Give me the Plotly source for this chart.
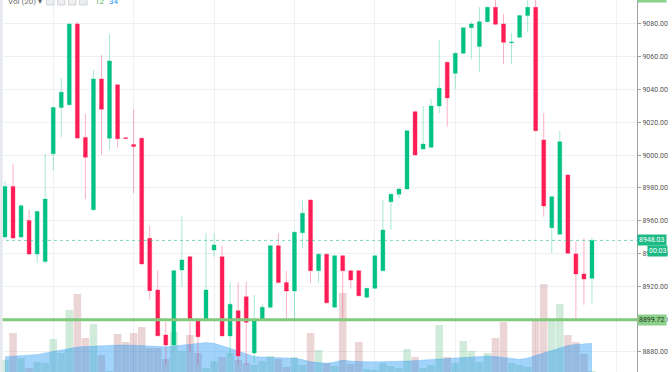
import plotly.graph_objects as go

# ---- data (candle index 0..73) ----
opens = [8950.1, 8980.9, 8950.1, 8960.2, 8939.7, 8935.1, 9000.8, 9029.0, 9030.7, 9080.0,
         9010.8, 8966.7, 9046.5, 9010.3, 9042.9, 9010.6, 9006.5, 9010.3, 8949.3, 8917.8,
         8890.4, 8884.3, 8930.0, 8938.1, 8899.5, 8899.3, 8942.2, 8938.1, 8889.8, 8905.2,
         8913.7, 8879.4, 8899.5, 8907.3, 8944.8, 8922.3, 8917.2, 8952.7, 8972.7, 8929.6,
         8939.6, 8907.3, 8938.7, 8929.6, 8929.6, 8913.4, 8918.8, 8929.6, 8971.6, 8976.2,
         8979.4, 9026.5, 9003.8, 9004.8, 9030.0, 9056.6, 9049.9, 9062.1, 9077.7, 9066.2,
         9081.4, 9090.2, 9080.0, 9068.6, 9071.9, 9085.1, 9090.2, 9009.3, 8955.8, 8951.8,
         8987.9, 8939.8, 8927.6, 8924.9]
highs = [8984.0, 8994.7, 8970.0, 8966.7, 8966.0, 9000.8, 9029.5, 9046.9, 9080.3, 9081.2,
         9025.2, 9052.0, 9061.1, 9073.7, 9043.2, 9010.8, 9028.0, 9010.6, 8957.0, 8929.8,
         8898.5, 8930.0, 8963.1, 8938.5, 8900.0, 8952.4, 8952.4, 8944.8, 8922.3, 8922.3,
         8922.9, 8914.8, 8909.5, 8945.5, 8952.4, 8929.6, 8953.5, 8972.7, 8973.0, 8940.0,
         8940.0, 8939.0, 8939.0, 8930.0, 8930.0, 8919.0, 8939.0, 8972.7, 8976.5, 8979.8,
         9015.2, 9027.0, 9030.0, 9034.1, 9070.2, 9057.0, 9062.5, 9078.0, 9081.4, 9090.2,
         9090.5, 9094.6, 9086.1, 9074.3, 9085.5, 9094.6, 9094.6, 9025.5, 8975.0, 9014.9,
         8988.0, 8947.3, 8949.3, 8949.7]
lows = [8949.0, 8949.0, 8949.5, 8939.0, 8934.2, 8934.5, 8990.7, 9011.0, 9030.2, 9010.0,
        8973.2, 8966.2, 9000.2, 9003.2, 9004.7, 9010.0, 8976.9, 8933.3, 8911.9, 8889.5,
        8872.1, 8881.2, 8919.8, 8880.0, 8872.0, 8899.0, 8938.1, 8889.5, 8877.1, 8872.0,
        8872.0, 8873.3, 8899.0, 8906.5, 8922.0, 8898.5, 8899.5, 8943.2, 8922.3, 8922.3,
        8909.5, 8907.0, 8899.5, 8918.8, 8914.0, 8913.0, 8918.5, 8929.3, 8954.4, 8973.7,
        8979.0, 9000.0, 9003.5, 9004.4, 9025.5, 9017.4, 9040.2, 9061.5, 9058.5, 9050.9,
        9081.0, 9079.5, 9055.4, 9055.4, 9071.5, 9075.3, 9014.5, 8962.5, 8940.2, 8951.5,
        8940.0, 8899.5, 8908.7, 8909.7]
closes = [8980.9, 8949.5, 8969.2, 8939.7, 8965.7, 8973.2, 9029.0, 9038.4, 9080.0, 9010.4,
          8998.8, 9046.5, 9028.0, 9057.4, 9010.0, 9010.2, 9005.3, 8933.7, 8917.4, 8889.9,
          8884.3, 8929.6, 8936.1, 8899.3, 8889.3, 8917.8, 8945.2, 8889.8, 8909.1, 8877.6,
          8898.1, 8899.5, 8907.3, 8944.8, 8922.3, 8917.2, 8953.0, 8964.6, 8929.6, 8939.6,
          8910.0, 8938.7, 8929.6, 8923.9, 8914.3, 8918.8, 8938.7, 8954.4, 8976.2, 8979.4,
          9014.9, 9000.1, 9006.8, 9030.0, 9040.8, 9034.9, 9062.1, 9077.7, 9080.0, 9081.4,
          9090.2, 9079.8, 9068.8, 9069.0, 9085.1, 9090.2, 9014.9, 8969.0, 8974.7, 9008.2,
          8940.2, 8927.6, 8924.5, 8948.03]
volumes = [15, 42, 17, 7, 13, 12, 36, 22, 65, 81,
           37, 51, 20, 4, 41, 33, 42, 48, 27, 27,
           16, 43, 24, 40, 22, 7, 14, 18, 22, 15,
           12, 10, 14, 19, 16, 8, 18, 10, 42, 25,
           12, 9, 82, 11, 33, 6, 5, 12, 9, 7,
           26, 18, 7, 10, 50, 18, 12, 34, 24, 13,
           22, 37, 53, 12, 10, 8, 55, 91, 55, 71,
           40, 33, 21, 4]
vol_ma = [18.3, 19, 19.5, 20, 20.5, 22, 23.5, 25, 26.5, 28,
          28.5, 29, 29.5, 30, 30, 30, 30, 29.5, 29, 28.5,
          28.3, 29, 30, 31, 31.5, 32.5, 31.7, 29.5, 26.7, 24,
          21, 18.5, 18, 17.7, 17.5, 17, 16.7, 15.5, 13.3, 12.5,
          11.7, 13, 15, 14, 13.5, 13.3, 13.3, 13.3, 13.3, 13.5,
          14, 14.5, 15, 15.5, 16, 16.5, 16.7, 17.5, 18, 18.5,
          19, 18.5, 17.7, 16.7, 15.7, 17, 19.5, 22, 24.5, 27,
          29.5, 30.5, 31.2, 31.7]
price_ticks = [8880, 8900, 8920, 8940, 8960, 8980, 9000, 9020, 9040, 9060, 9080]
grid_x = [6, 16, 26, 36, 46, 56, 66, 76]
last_price = 8948.03
support_level = 8899.72

idx = list(range(len(opens)))
UP = '#02c185'
DN = '#ff1d55'
vol_colors = ['rgba(60,170,95,0.24)' if c >= o else 'rgba(175,80,80,0.24)'
              for o, c in zip(opens, closes)]

fig = go.Figure()
fig.add_trace(go.Bar(x=idx, y=volumes, marker=dict(color=vol_colors, line=dict(width=0)),
                     yaxis='y', showlegend=False, hoverinfo='skip'))
fig.add_trace(go.Scatter(x=idx, y=vol_ma, mode='lines', fill='tozeroy',
                         line=dict(color='rgba(33,150,243,0.42)', width=0.5),
                         fillcolor='rgba(33,150,243,0.42)', yaxis='y', showlegend=False,
                         hoverinfo='skip'))
fig.add_trace(go.Candlestick(
    x=idx, open=opens, high=highs, low=lows, close=closes, yaxis='y2',
    increasing=dict(fillcolor=UP, line=dict(color='rgba(2,193,133,0.35)', width=1)),
    decreasing=dict(fillcolor=DN, line=dict(color='rgba(255,29,85,0.35)', width=1)),
    whiskerwidth=0, showlegend=False))

W = 637.0
shapes = [
    dict(type='line', xref='paper', x0=0, x1=1, yref='y2', y0=last_price, y1=last_price,
         line=dict(color='rgba(40,190,145,0.6)', width=1, dash='dot'), layer='above'),
    dict(type='line', xref='paper', x0=0, x1=1, yref='y2', y0=support_level, y1=support_level,
         line=dict(color='#80c97e', width=3), layer='above'),
    dict(type='rect', xref='paper', yref='paper', x0=0, x1=2.7 / W, y0=0, y1=1,
         fillcolor='#e6eaee', line=dict(width=0), layer='above'),
]
# small toolbar icons top-left
for x0 in [46.5, 57.5, 68.5, 79.5]:
    shapes.append(dict(type='rect', xref='paper', yref='paper', x0=x0 / W, x1=(x0 + 7.5) / W,
                       y0=1 - 5 / 372, y1=1.01, fillcolor='#eceef0',
                       line=dict(color='#c8ccd0', width=0.8), layer='above'))

annotations = [
    dict(text='Vol (20) ▾', xref='paper', yref='paper', x=6 / W, y=1, xanchor='left',
         yanchor='middle', yshift=-1.5, showarrow=False, font=dict(size=8, color='#6b6b6b')),
    dict(text='12', xref='paper', yref='paper', x=93 / W, y=1, xanchor='left',
         yanchor='middle', yshift=-1.5, showarrow=False, font=dict(size=8, color='#53b253')),
    dict(text='34', xref='paper', yref='paper', x=106.5 / W, y=1, xanchor='left',
         yanchor='middle', yshift=-1.5, showarrow=False, font=dict(size=8, color='#2b9af3')),
    dict(text=f'{last_price:.2f}', xref='paper', yref='y2', x=1, y=last_price, xanchor='left',
         yanchor='middle', showarrow=False, bgcolor='#1dba86', borderpad=1,
         font=dict(size=7, color='white')),
    dict(text='00:03', xref='paper', yref='y2', x=1, y=last_price, xanchor='left',
         yanchor='middle', xshift=10, yshift=-11, showarrow=False, bgcolor='#1dba86',
         borderpad=1, font=dict(size=7, color='white')),
    dict(text=f'{support_level:.2f}', xref='paper', yref='y2', x=1, y=support_level,
         xanchor='left', yanchor='middle', showarrow=False, bgcolor='#8ccf8a', borderpad=1,
         font=dict(size=7, color='#1f3a1f')),
    dict(text='9094.60', xref='paper', yref='paper', x=1, y=1, xanchor='left',
         yanchor='bottom', yshift=-2.5, showarrow=False, bgcolor='#8ccf8a', borderpad=1,
         font=dict(size=7, color='#1f3a1f')),
]

fig.update_layout(
    width=672, height=372,
    margin=dict(l=0, r=35, t=0, b=0),
    paper_bgcolor='white', plot_bgcolor='white',
    font=dict(family='Roboto, sans-serif'),
    bargap=0.06,
    showlegend=False,
    xaxis=dict(range=[-0.62, 78.6], tickvals=grid_x, showticklabels=False, ticks='',
               showgrid=True, gridcolor='#edf1f5', gridwidth=1, zeroline=False,
               rangeslider=dict(visible=False), fixedrange=True),
    yaxis=dict(range=[3, 375], visible=False, showgrid=False, fixedrange=True),
    yaxis2=dict(overlaying='y', side='right', range=[8867.8, 9094.6],
                tickvals=price_ticks, ticktext=[f'{v:.2f}' for v in price_ticks],
                tickfont=dict(size=7, color='#555555'), showgrid=True, gridcolor='#edf1f5',
                gridwidth=1, zeroline=False, showline=True, linecolor='#a0a0a0',
                linewidth=1, ticks='outside', ticklen=3, tickcolor='#a0a0a0',
                fixedrange=True),
    shapes=shapes,
    annotations=annotations,
)

fig.write_html('out.html', config={'displayModeBar': False},
               post_script="document.body.style.margin='0';document.body.style.overflow='hidden';")
